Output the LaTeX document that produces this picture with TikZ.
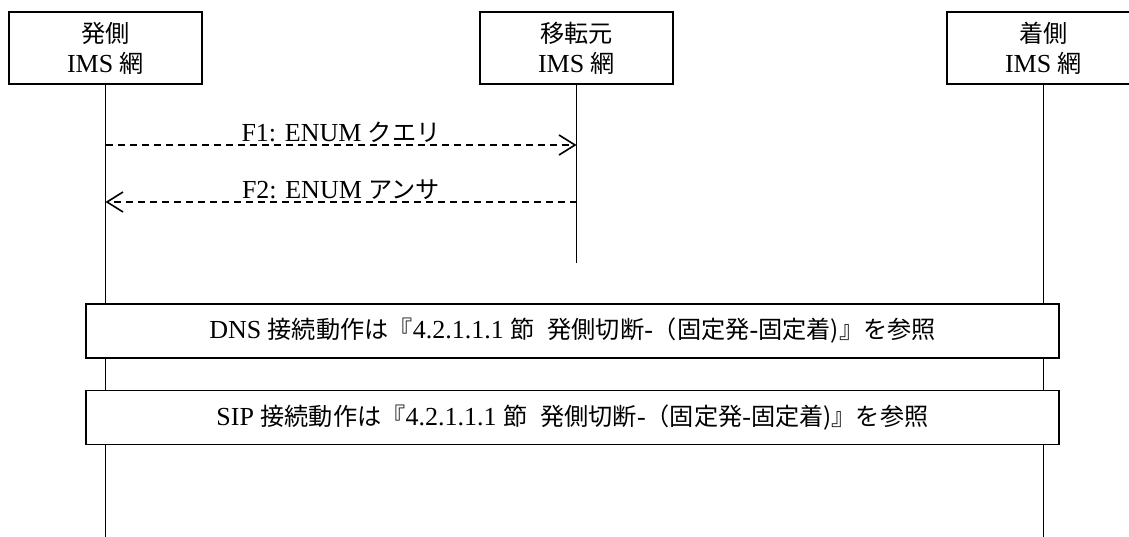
\documentclass[tikz,border=0pt]{standalone}
\usepackage{fontspec}
\setmainfont{Liberation Serif}
\newfontfamily\jpfont{Noto Sans CJK JP}[Scale=0.93]
\newcommand{\jp}[1]{{\jpfont #1}}
\usetikzlibrary{arrows.meta,positioning}

\tikzset{
	party/.style = {draw, fill=white, line width=1.6pt, minimum width=193pt,
		minimum height=72pt, inner sep=0pt, align=center},
	bar/.style = {draw, fill=white, line width=1.6pt, minimum width=973pt,
		minimum height=54pt, inner sep=0pt},
	life/.style = {line width=1.6pt},
	msg/.style = {line width=1.6pt, dash pattern=on 7pt off 5pt,
		-{Straight Barb[length=16pt, width=20pt, line width=1.6pt]}}
}

\begin{document}
\begin{tikzpicture}[x=1pt, y=-1pt, font=\fontsize{26}{30}\selectfont]
	\useasboundingbox (0,0) rectangle (1129,537);
	\node[party] (orig) at (105.5,48) {\jp{発側}\\IMS \jp{網}};
	\node[party] (trans) [node distance = 471pt] [right of = orig] {\jp{移転元}\\IMS \jp{網}};
	\node[party] (term) [node distance = 467pt] [right of = trans] {\jp{着側}\\IMS \jp{網}};
	\coordinate (origEnd)  at (orig.south |- 0,537);
	\coordinate (transEnd) at (trans.south |- 0,263);
	\coordinate (termEnd)  at (term.south |- 0,537);
	\draw[life] (orig.south)  -- (origEnd);
	\draw[life] (trans.south) -- (transEnd);
	\draw[life] (term.south)  -- (termEnd);
	\coordinate (fOneA) at (orig.south |- 0,145);
	\coordinate (fOneB) at (trans.south |- 0,145);
	\coordinate (fTwoA) at (trans.south |- 0,202);
	\coordinate (fTwoB) at (orig.south |- 0,202);
	\draw[msg] (fOneA) -- node[above=0pt, inner sep=2pt] {F1: ENUM \jp{クエリ}} (fOneB);
	\draw[msg] (fTwoA) -- node[above=0pt, inner sep=2pt] {F2: ENUM \jp{アンサ}} (fTwoB);
	\node[bar] (dns) at (572.5,331) {DNS \jp{接続動作は『}4.2.1.1.1 \jp{節}\hspace{0.5em}\jp{発側切断}-\jp{（固定発}-\jp{固定着}\jp{)』を参照}};
	\node[bar] (sip) at (572.5,417.5) {SIP \jp{接続動作は『}4.2.1.1.1 \jp{節}\hspace{0.5em}\jp{発側切断}-\jp{（固定発}-\jp{固定着}\jp{)』を参照}};
\end{tikzpicture}
\end{document}
